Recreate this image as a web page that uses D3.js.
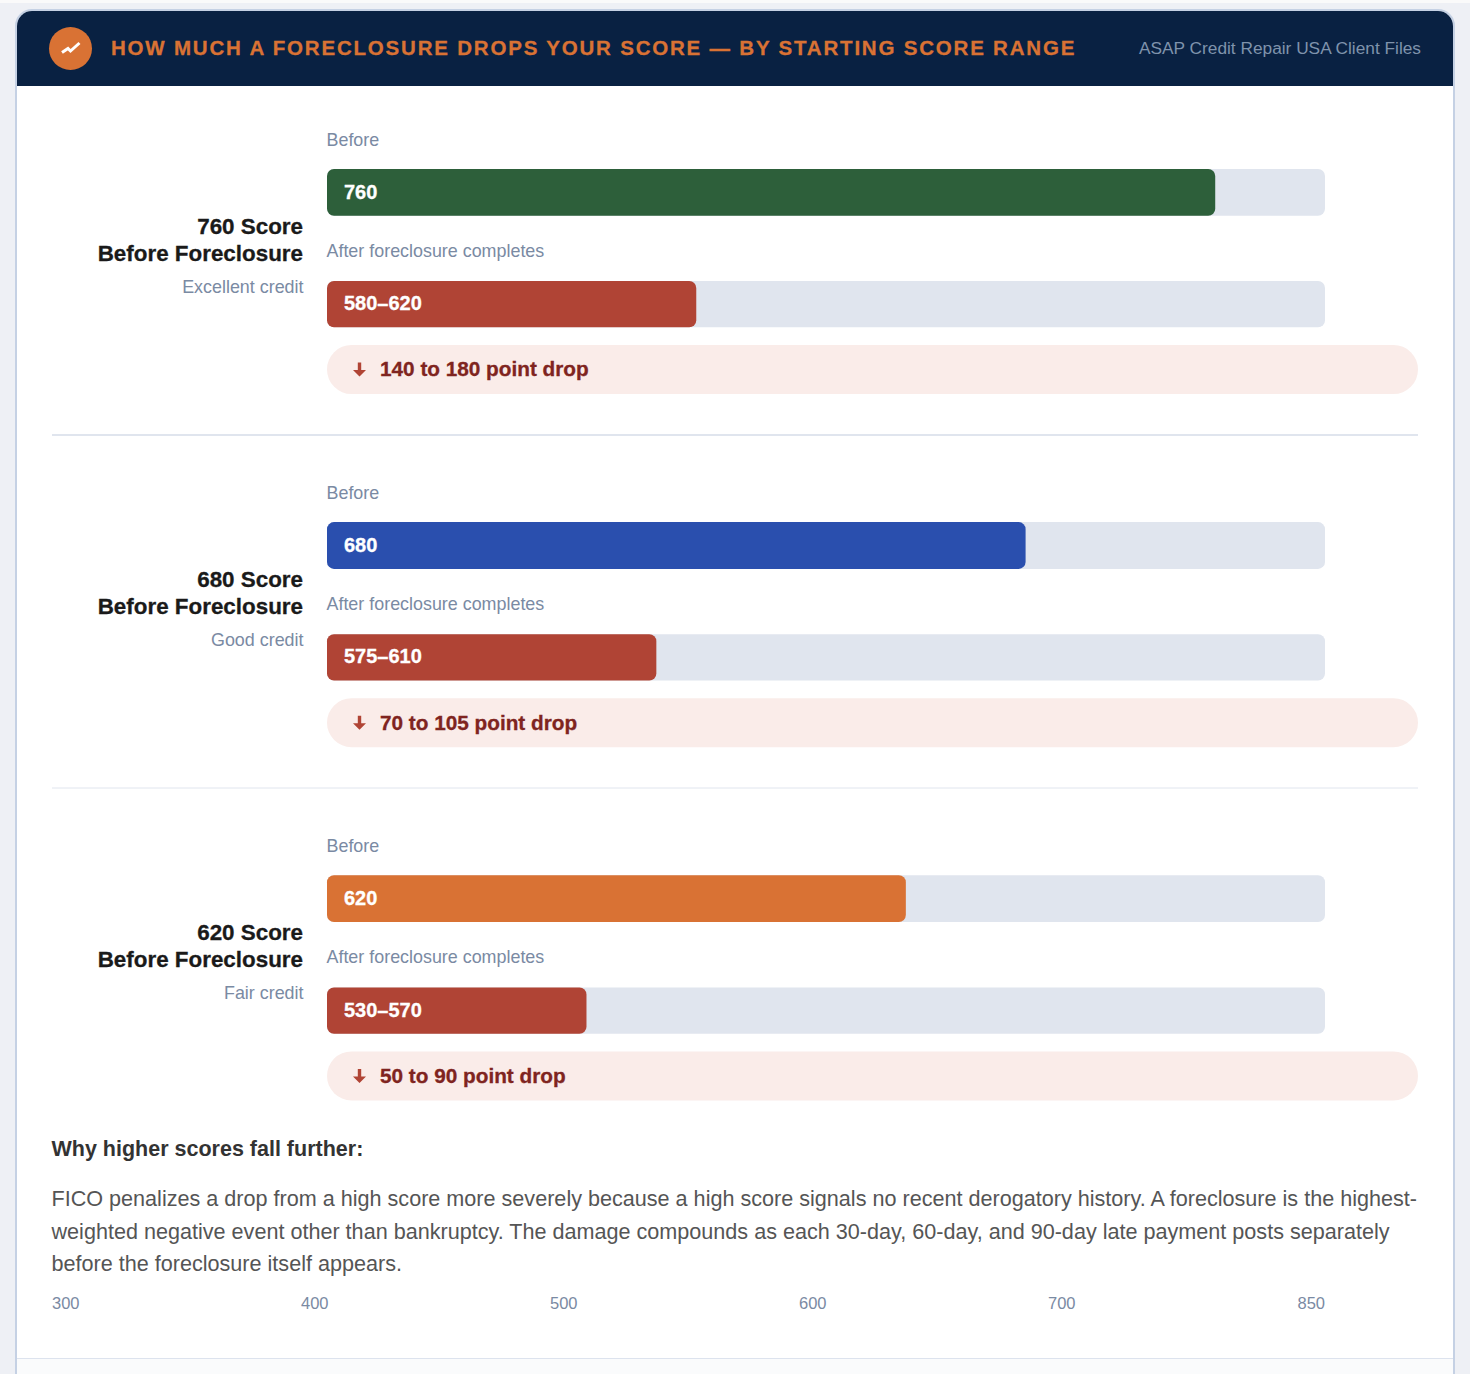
<!DOCTYPE html>
<html>
<head>
<meta charset="utf-8">
<script src="https://cdn.jsdelivr.net/npm/d3@7/dist/d3.min.js"></script>
<style>
html,body{margin:0;padding:0;background:#fff;overflow:hidden}
svg{display:block}
.heavy{paint-order:stroke;stroke-width:0.3px;stroke:currentColor}
</style>
</head>
<body>
<svg id="chart" width="1470" height="1374"></svg>
<script>
// Score groups, top to bottom
const groupTitles = ["760 Score", "680 Score", "620 Score"];
const groupSubtitle = "Before Foreclosure";
const creditBands = ["Excellent credit", "Good credit", "Fair credit"];
const beforeLabels = ["760", "680", "620"];
const afterLabels = ["580–620", "575–610", "530–570"];
// Bar fill as a percentage of the track
const beforeFill = [89, 70, 58];
const afterFill = [37, 33, 26];
const beforeColors = ["#2d5f3a", "#2a4fae", "#d97234"];
const afterColor = "#b04435";
const dropLabels = ["140 to 180 point drop", "70 to 105 point drop", "50 to 90 point drop"];
const axisTicks = ["300", "400", "500", "600", "700", "850"];
const headerTitle = "HOW MUCH A FORECLOSURE DROPS YOUR SCORE — BY STARTING SCORE RANGE";
const headerSource = "ASAP Credit Repair USA Client Files";
const noteHeading = "Why higher scores fall further:";
const noteLines = [
  "FICO penalizes a drop from a high score more severely because a high score signals no recent derogatory history. A foreclosure is the highest-",
  "weighted negative event other than bankruptcy. The damage compounds as each 30-day, 60-day, and 90-day late payment posts separately",
  "before the foreclosure itself appears."
];

const FONT = "'Liberation Sans', Arial, sans-serif";
const svg = d3.select("#chart").style("font-family", FONT);

// Page and card
svg.append("rect").attr("width", 1470).attr("height", 1374).attr("fill", "#eef0f5");
svg.append("rect").attr("width", 1470).attr("height", 3).attr("fill", "#fafafa");
svg.append("rect").attr("x", 16).attr("y", 10).attr("width", 1438).attr("height", 1400)
  .attr("rx", 15).attr("fill", "#ffffff").attr("stroke", "none");
svg.append("path")
  .attr("d", "M16 1374V26a16 16 0 0 1 16-16H1438a16 16 0 0 1 16 16V1374")
  .attr("fill", "none").attr("stroke", "#c5d1e4").attr("stroke-width", 2);

// Header band
svg.append("path").attr("d", "M17 86V26a15 15 0 0 1 15-15H1438a15 15 0 0 1 15 15V86Z").attr("fill", "#092142");
svg.append("circle").attr("cx", 70.500).attr("cy", 48.500).attr("r", 21.500).attr("fill", "#d97234");
svg.append("path").attr("d", "M62 52.500L68 48.500L70.500 51L79.500 43").attr("fill", "none")
  .attr("stroke", "#fff").attr("stroke-width", 3).attr("stroke-linejoin", "miter");
svg.append("text").attr("class", "heavy").attr("x", 111).attr("y", 55).attr("font-size", 20.500).attr("font-weight", 700)
  .attr("letter-spacing", 1.800).attr("fill", "#d97234").style("color", "#d97234").text(headerTitle);
svg.append("text").attr("x", 1421).attr("y", 54).attr("text-anchor", "end").attr("font-size", 17.300)
  .attr("fill", "#7f93ac").text(headerSource);

// Track scale: percentage of the bar track
const x = d3.scaleLinear().domain([0, 100]).range([327, 1325]);
const rowStep = 353.200;

const rows = svg.selectAll("g.row").data(groupTitles).join("g").attr("class", "row")
  .attr("transform", (d, i) => `translate(0,${i * rowStep})`);

rows.append("text").attr("class", "heavy").attr("x", 303).attr("y", 234).attr("text-anchor", "end")
  .attr("font-size", 22.400).attr("font-weight", 700).attr("fill", "#1a1a1a").style("color", "#1a1a1a").text(d => d);
rows.append("text").attr("class", "heavy").attr("x", 303).attr("y", 261).attr("text-anchor", "end")
  .attr("font-size", 22.400).attr("font-weight", 700).attr("fill", "#1a1a1a").style("color", "#1a1a1a").text(groupSubtitle);
rows.append("text").attr("x", 303.500).attr("y", 293).attr("text-anchor", "end")
  .attr("font-size", 17.900).attr("fill", "#7a8aa3").text((d, i) => creditBands[i]);

rows.append("text").attr("x", 326.500).attr("y", 146).attr("font-size", 17.900).attr("fill", "#7a8aa3").text("Before");
rows.append("text").attr("x", 326.500).attr("y", 257).attr("font-size", 17.900).attr("fill", "#7a8aa3").text("After foreclosure completes");

// Before bars
rows.append("rect").attr("x", x(0)).attr("y", 168.900).attr("width", x(100) - x(0)).attr("height", 46.800).attr("rx", 7).attr("fill", "#e0e5ee");
rows.append("rect").attr("x", x(0)).attr("y", 168.900).attr("width", (d, i) => x(beforeFill[i]) - x(0)).attr("height", 46.800).attr("rx", 7)
  .attr("fill", (d, i) => beforeColors[i]);
rows.append("text").attr("class", "heavy").attr("x", 344).attr("y", 199).attr("font-size", 20).attr("font-weight", 700).attr("fill", "#fff").style("color", "#fff")
  .text((d, i) => beforeLabels[i]);

// After bars
rows.append("rect").attr("x", x(0)).attr("y", 281).attr("width", x(100) - x(0)).attr("height", 46.300).attr("rx", 7).attr("fill", "#e0e5ee");
rows.append("rect").attr("x", x(0)).attr("y", 281).attr("width", (d, i) => x(afterFill[i]) - x(0)).attr("height", 46.300).attr("rx", 7)
  .attr("fill", afterColor);
rows.append("text").attr("class", "heavy").attr("x", 344).attr("y", 310.200).attr("font-size", 20).attr("font-weight", 700).attr("fill", "#fff").style("color", "#fff")
  .text((d, i) => afterLabels[i]);

// Drop callout pill
rows.append("rect").attr("x", 327).attr("y", 345).attr("width", 1091).attr("height", 49).attr("rx", 24.500).attr("fill", "#faece9");
rows.append("path").attr("d", "M357.800 362.500H361.200V370H366L359.500 376.500L353 370H357.800Z").attr("fill", "#b04435");
rows.append("text").attr("class", "heavy").attr("x", 380).attr("y", 376.400).attr("font-size", 20.750).attr("font-weight", 700).attr("fill", "#7f2420").style("color", "#7f2420")
  .text((d, i) => dropLabels[i]);

// Dividers between groups
svg.selectAll("line.div").data([435, 788]).join("line").attr("class", "div")
  .attr("x1", 52).attr("x2", 1418).attr("y1", d => d).attr("y2", d => d)
  .attr("stroke", "#e0e5ee").attr("stroke-width", (d, i) => i ? 1 : 2);

// Explanatory note
svg.append("text").attr("x", 51.500).attr("y", 1156).attr("font-size", 21.500).attr("font-weight", 700).attr("fill", "#333").text(noteHeading);
svg.selectAll("text.note").data(noteLines).join("text").attr("class", "note")
  .attr("x", 51.500).attr("y", (d, i) => [1206, 1239, 1271][i]).attr("font-size", 21.600).attr("fill", "#555").text(d => d);

// Score scale labels spaced evenly across the track
svg.selectAll("text.tick").data(axisTicks).join("text").attr("class", "tick")
  .attr("x", (d, i) => i === axisTicks.length - 1 ? 1325 : 52 + i * 249)
  .attr("y", 1309).attr("text-anchor", (d, i) => i === axisTicks.length - 1 ? "end" : "start")
  .attr("font-size", 16.500).attr("fill", "#7a8aa3").text(d => d);

// Footer strip
svg.append("rect").attr("x", 17).attr("y", 1358).attr("width", 1436).attr("height", 16).attr("fill", "#fafbfc");
svg.append("line").attr("x1", 17).attr("x2", 1453).attr("y1", 1358.500).attr("y2", 1358.500).attr("stroke", "#dde3ee");
</script>
</body>
</html>
